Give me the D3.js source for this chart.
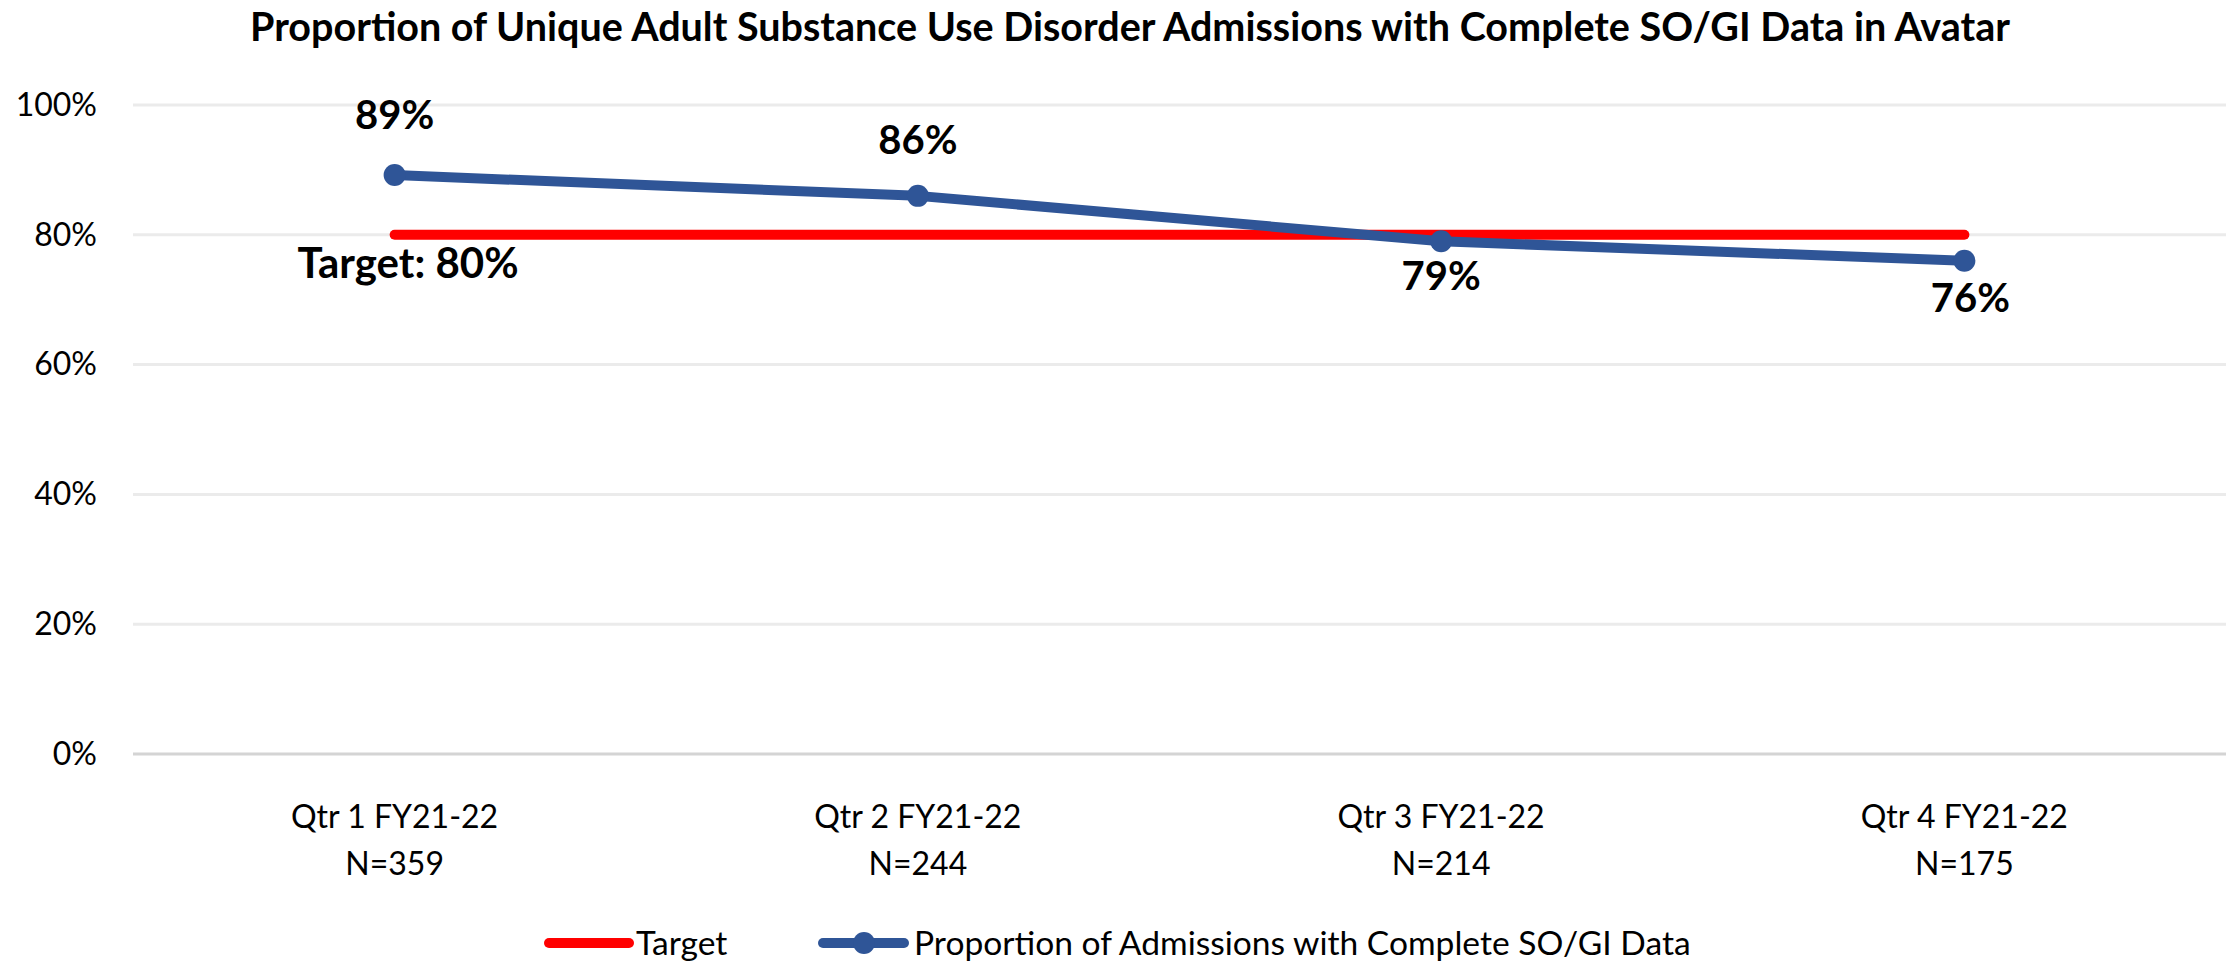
<!DOCTYPE html>
<html>
<head>
<meta charset="utf-8">
<script src="https://cdn.jsdelivr.net/npm/d3@7"></script>
<style>
  html, body { margin: 0; padding: 0; background: #ffffff; }
  svg { display: block; }
  text { font-family: Lato, "Open Sans", sans-serif; fill: #000; }
</style>
</head>
<body>
<svg id="chart" width="2229" height="961"></svg>
<script>
const titleText = "Proportion of Unique Adult Substance Use Disorder Admissions with Complete SO/GI Data in Avatar";
const quarters = ["Qtr 1 FY21-22", "Qtr 2 FY21-22", "Qtr 3 FY21-22", "Qtr 4 FY21-22"];
const counts = ["N=359", "N=244", "N=214", "N=175"];
const proportion = [0.892, 0.86, 0.79, 0.76];
const target = [0.80, 0.80, 0.80, 0.80];
const yTicks = [0, 0.2, 0.4, 0.6, 0.8, 1.0];
const seriesNames = ["Target", "Proportion of Admissions with Complete SO/GI Data"];
const targetLabel = "Target: 80%";

(function () {
const svg = d3.select("#chart");
const pL = 133, pR = 2226, pT = 105, pB = 754;
const blue = "#2F5597", red = "#FF0000";

const x = d3.scaleBand().domain(quarters).range([pL, pR]).padding(0);
const cx = q => x(q) + x.bandwidth() / 2;
const y = d3.scaleLinear().domain([0, 1]).range([pB, pT]);

// title
svg.append("text")
  .attr("x", 1130).attr("y", 41)
  .attr("text-anchor", "middle")
  .style("font-weight", "bold").style("font-size", "39.5px")
  .text(titleText);

// gridlines
svg.append("g").selectAll("line").data(yTicks).join("line")
  .attr("x1", pL).attr("x2", pR)
  .attr("y1", d => y(d)).attr("y2", d => y(d))
  .attr("stroke", d => d === 0 ? "#d4d4d4" : "#ebebeb")
  .attr("stroke-width", 3);

// y axis
const yAxis = svg.append("g").attr("transform", `translate(${pL},0)`)
  .call(d3.axisLeft(y).tickValues(yTicks).tickFormat(d3.format(".0%")).tickSize(0).tickPadding(36));
yAxis.select(".domain").remove();
yAxis.selectAll("text").style("font-size", "32px").style("font-family", "Lato, sans-serif").attr("fill", "#000");

// x axis labels
const xl = svg.append("g").selectAll("text").data(quarters).join("text")
  .attr("text-anchor", "middle").style("font-size", "32px");
xl.append("tspan").attr("x", d => cx(d)).attr("y", 828).text(d => d);
xl.append("tspan").attr("x", d => cx(d)).attr("y", 875).text((d, i) => counts[i]);

// target line
const line = d3.line().x((d, i) => cx(quarters[i])).y(d => y(d));
svg.append("path").datum(target)
  .attr("d", line).attr("fill", "none")
  .attr("stroke", red).attr("stroke-width", 10).attr("stroke-linecap", "round");

// proportion line
svg.append("path").datum(proportion)
  .attr("d", line).attr("fill", "none")
  .attr("stroke", blue).attr("stroke-width", 10).attr("stroke-linejoin", "round");
svg.append("g").selectAll("circle").data(proportion).join("circle")
  .attr("cx", (d, i) => cx(quarters[i])).attr("cy", d => y(d)).attr("r", 11)
  .attr("fill", blue);

// data labels
const labelDy = [-46, -42, 49, 51];
svg.append("g").selectAll("text").data(proportion).join("text")
  .attr("x", (d, i) => cx(quarters[i]) + (i === 3 ? 6 : 0))
  .attr("y", (d, i) => y(d) + labelDy[i])
  .attr("text-anchor", "middle")
  .style("font-weight", "bold").style("font-size", "40px")
  .text(d => d3.format(".0%")(d));

// target label
svg.append("text")
  .attr("x", 408).attr("y", y(target[0]) + 43)
  .attr("text-anchor", "middle")
  .style("font-weight", "bold").style("font-size", "42px")
  .text(targetLabel);

// legend
const lg = svg.append("g");
lg.append("line").attr("x1", 549).attr("x2", 629).attr("y1", 943).attr("y2", 943)
  .attr("stroke", red).attr("stroke-width", 10).attr("stroke-linecap", "round");
lg.append("text").attr("x", 636).attr("y", 955).style("font-size", "33.6px").text(seriesNames[0]);
lg.append("line").attr("x1", 823).attr("x2", 904).attr("y1", 943).attr("y2", 943)
  .attr("stroke", blue).attr("stroke-width", 10).attr("stroke-linecap", "round");
lg.append("circle").attr("cx", 864).attr("cy", 943).attr("r", 11).attr("fill", blue);
lg.append("text").attr("x", 914).attr("y", 955).style("font-size", "33.6px").text(seriesNames[1]);
})();
</script>
</body>
</html>
